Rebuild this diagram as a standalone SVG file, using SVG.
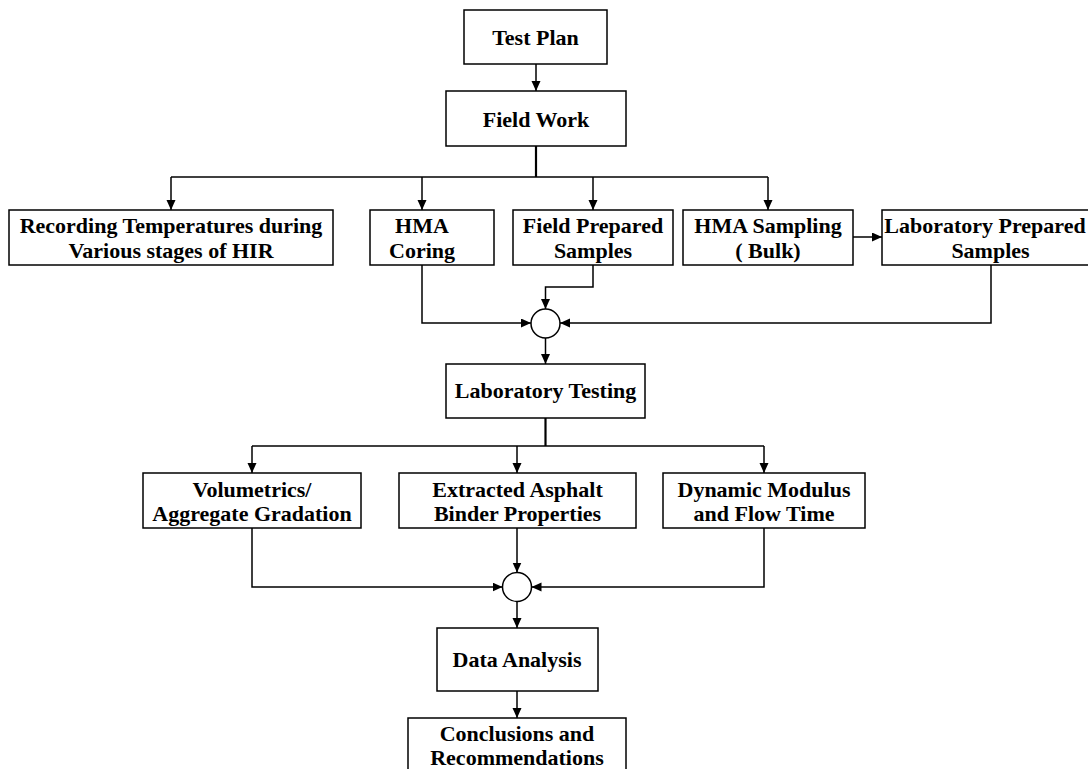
<svg xmlns="http://www.w3.org/2000/svg" width="1088" height="769" viewBox="0 0 1088 769">
<style>
.box{fill:#fff;stroke:#000;stroke-width:1.5}
.t{font-family:"Liberation Serif","Times New Roman",serif;font-weight:bold;font-size:22px;fill:#000;text-anchor:middle}
.c{fill:none;stroke:#000;stroke-width:1.5}
.a{marker-end:url(#ah)}
.thick{stroke-width:2.2}
</style>
<defs>
<marker id="ah" markerUnits="userSpaceOnUse" markerWidth="11" markerHeight="10" refX="10" refY="4.5" orient="auto">
<path d="M0,0 L10,4.5 L0,9 z" fill="#000"/>
</marker>
</defs>
<rect width="1088" height="769" fill="#fff"/>
<g id="connectors">
<path class="c a" d="M536,64 V91"/>
<path class="c thick" d="M536,146 V177"/>
<path class="c" d="M171,177 H768"/>
<path class="c a" d="M171,177 V210"/>
<path class="c a" d="M422,177 V210"/>
<path class="c a" d="M593,177 V210"/>
<path class="c a" d="M768,177 V210"/>
<path class="c a" d="M853,237 H882"/>
<path class="c a" d="M422,265 V323 H531"/>
<path class="c a" d="M593,265 V287 H545.5 V309"/>
<path class="c a" d="M991,265 V323 H560"/>
<path class="c a" d="M545.5,338 V364"/>
<path class="c thick" d="M545.5,418 V446"/>
<path class="c" d="M252,446 H764"/>
<path class="c a" d="M252,446 V473"/>
<path class="c a" d="M517,446 V473"/>
<path class="c a" d="M764,446 V473"/>
<path class="c a" d="M252,528 V587 H502.5"/>
<path class="c a" d="M517,528 V572.5"/>
<path class="c a" d="M764,528 V587 H531.5"/>
<path class="c a" d="M517,601.5 V628"/>
<path class="c a" d="M517,691 V718"/>
</g>
<g id="test-plan"><rect class="box" x="464" y="10" width="143" height="54"/><text class="t" x="535.5" y="45">Test Plan</text></g>
<g id="field-work"><rect class="box" x="446" y="91" width="180" height="55"/><text class="t" x="536" y="126.5">Field Work</text></g>
<g id="recording"><rect class="box" x="9" y="210" width="324" height="55"/><text class="t" x="171" y="233">Recording Temperatures during</text><text class="t" x="171" y="258">Various stages of HIR</text></g>
<g id="hma-coring"><rect class="box" x="370" y="210" width="124" height="55"/><text class="t" x="422" y="233">HMA</text><text class="t" x="422" y="258">Coring</text></g>
<g id="field-prepared"><rect class="box" x="513" y="210" width="160" height="55"/><text class="t" x="593" y="233">Field Prepared</text><text class="t" x="593" y="258">Samples</text></g>
<g id="hma-sampling"><rect class="box" x="683" y="210" width="170" height="55"/><text class="t" x="768" y="233">HMA Sampling</text><text class="t" x="768" y="258">( Bulk)</text></g>
<g id="lab-prepared"><rect class="box" x="882" y="210" width="217" height="55"/><text class="t" x="985" y="233">Laboratory Prepared</text><text class="t" x="990.5" y="258">Samples</text></g>
<g id="junction-1"><circle class="box" cx="545.5" cy="323.5" r="14.5"/></g>
<g id="lab-testing"><rect class="box" x="446" y="364" width="199" height="54"/><text class="t" x="545.5" y="398">Laboratory Testing</text></g>
<g id="volumetrics"><rect class="box" x="143" y="473" width="218" height="55"/><text class="t" x="252" y="497">Volumetrics/</text><text class="t" x="252" y="521">Aggregate Gradation</text></g>
<g id="extracted"><rect class="box" x="399" y="473" width="237" height="55"/><text class="t" x="517.5" y="497">Extracted Asphalt</text><text class="t" x="517.5" y="521">Binder Properties</text></g>
<g id="dynamic"><rect class="box" x="663" y="473" width="202" height="55"/><text class="t" x="764" y="497">Dynamic Modulus</text><text class="t" x="764" y="521">and Flow Time</text></g>
<g id="junction-2"><circle class="box" cx="517" cy="587" r="14.5"/></g>
<g id="data-analysis"><rect class="box" x="437" y="628" width="161" height="63"/><text class="t" x="517" y="667">Data Analysis</text></g>
<g id="conclusions"><rect class="box" x="408" y="718" width="218" height="60"/><text class="t" x="517" y="741">Conclusions and</text><text class="t" x="517" y="765">Recommendations</text></g>
</svg>
